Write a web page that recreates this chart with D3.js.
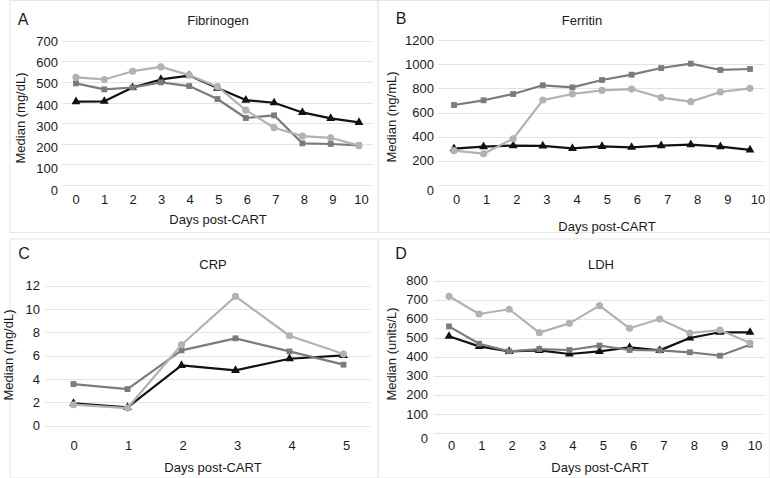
<!DOCTYPE html>
<html><head><meta charset="utf-8">
<script src="https://cdn.jsdelivr.net/npm/d3@7"></script>
<style>
body{margin:0;background:#fff}
svg{display:block}
text{font-family:"Liberation Sans",Arial,Helvetica,sans-serif;fill:#1a1a1a}
</style>
</head><body>
<svg id="c" width="770" height="478"></svg>
<script>
// ---------- data ----------
const days10 = ["0","1","2","3","4","5","6","7","8","9","10"];
const days5 = ["0","1","2","3","4","5"];

const fibTicks = [0,100,200,300,400,500,600,700];
const fibBlack = [404,406,473,512,531,470,412,399,352,323,304];
const fibDark  = [493,464,473,498,480,417,325,338,202,199,192];
const fibLight = [522,512,552,573,533,477,363,278,237,229,191];

const ferTicks = [0,200,400,600,800,1000,1200];
const ferBlack = [301,317,326,323,303,320,312,326,334,317,290];
const ferDark  = [662,701,753,825,808,869,913,968,1004,952,960];
const ferLight = [284,259,383,703,753,783,794,723,690,770,800];

const crpTicks = [0,2,4,6,8,10,12];
const crpBlack = [1.91,1.57,5.17,4.74,5.74,6.03];
const crpDark  = [3.57,3.14,6.46,7.49,6.37,5.23];
const crpLight = [1.80,1.51,6.94,11.09,7.71,6.14];

const ldhTicks = [0,100,200,300,400,500,600,700,800];
const ldhBlack = [508,455,429,434,415,429,450,434,499,529,529];
const ldhDark  = [560,469,429,441,436,459,436,434,424,406,464];
const ldhLight = [718,625,650,527,576,669,550,599,525,541,473];

const xTitle = "Days post-CART";

// ---------- layout ----------
const panels = [
  {letter:"A", title:"Fibrinogen", yTitle:"Median (mg/dL)", cats:days10, ticks:fibTicks,
   series:[fibBlack,fibDark,fibLight],
   grid:[62,373], pts:[76,359], lbl:[76,361.5], y:[185,40.7], yl:[190,41.3], zeroShift:0,
   yLblX:58, xLblY:199, titlePos:[218,20], letterPos:[23,19], xTitlePos:[218,219], yTitlePos:[20,118],
   border:[10,0.5,378,232.5]},
  {letter:"B", title:"Ferritin", yTitle:"Median (ng/mL)", cats:days10, ticks:ferTicks,
   series:[ferBlack,ferDark,ferLight],
   grid:[438,765], pts:[454,750], lbl:[456.5,758], y:[185,40], yl:[185,40], zeroShift:5,
   yLblX:434, xLblY:199, titlePos:[582,20], letterPos:[401,18], xTitlePos:[607,226], yTitlePos:[391,117],
   border:[378,0.5,770,232.5]},
  {letter:"C", title:"CRP", yTitle:"Median (mg/dL)", cats:days5, ticks:crpTicks,
   series:[crpBlack,crpDark,crpLight],
   grid:[45,370], pts:[73.5,343.5], lbl:[74,346.5], y:[425.7,285.7], yl:[425.7,285.7], zeroShift:0,
   yLblX:40, xLblY:445, titlePos:[213,264], letterPos:[24,253], xTitlePos:[213,467], yTitlePos:[8,355],
   border:[10,239,378,478]},
  {letter:"D", title:"LDH", yTitle:"Median (units/L)", cats:days10, ticks:ldhTicks,
   series:[ldhBlack,ldhDark,ldhLight],
   grid:[434,765], pts:[449,750], lbl:[451.5,755], y:[433,280.7], yl:[433,280.7], zeroShift:5,
   yLblX:428, xLblY:445, titlePos:[601,264], letterPos:[401,253], xTitlePos:[600,467], yTitlePos:[391,354],
   border:[378,239,770,478]}
];

const styles = [
  {color:"#111111", marker:d3.symbolTriangle, size:34},
  {color:"#7b7b7b", marker:d3.symbolSquare, size:34},
  {color:"#b2b2b2", marker:d3.symbolCircle, size:40}
];

const svg = d3.select("#c");
svg.append("rect").attr("width",770).attr("height",478).attr("fill","#fff");

panels.forEach(p => {
  const g = svg.append("g");
  const [bx0,by0,bx1,by1] = p.border;
  g.append("rect").attr("x",bx0).attr("y",by0).attr("width",bx1-bx0).attr("height",by1-by0)
    .attr("fill","none").attr("stroke","#e6e6e6").attr("stroke-width",1);

  const maxV = p.ticks[p.ticks.length-1];
  const y = d3.scaleLinear().domain([0,maxV]).range(p.y);
  const yl = d3.scaleLinear().domain([0,maxV]).range(p.yl);
  const x = d3.scalePoint().domain(p.cats).range(p.pts);
  const xl = d3.scalePoint().domain(p.cats).range(p.lbl);

  // gridlines
  g.selectAll("line.grid").data(p.ticks).enter().append("line")
    .attr("x1",p.grid[0]).attr("x2",p.grid[1])
    .attr("y1",d=>Math.round(y(d))+0.5).attr("y2",d=>Math.round(y(d))+0.5)
    .attr("stroke","#e4e4e4").attr("stroke-width",1);

  // y tick labels
  g.selectAll("text.yt").data(p.ticks).enter().append("text")
    .attr("x",p.yLblX).attr("y",d=>yl(d)+(d===0?p.zeroShift:0)).attr("dy","0.35em")
    .attr("text-anchor","end").attr("font-size",13).text(d=>d);

  // x tick labels
  g.selectAll("text.xt").data(p.cats).enter().append("text")
    .attr("x",d=>xl(d)).attr("y",p.xLblY).attr("dy","0.35em")
    .attr("text-anchor","middle").attr("font-size",13).text(d=>d);

  // titles
  g.append("text").attr("x",p.titlePos[0]).attr("y",p.titlePos[1]).attr("dy","0.35em")
    .attr("text-anchor","middle").attr("font-size",13).text(p.title);
  g.append("text").attr("x",p.letterPos[0]).attr("y",p.letterPos[1]).attr("dy","0.35em")
    .attr("text-anchor","middle").attr("font-size",16).text(p.letter);
  g.append("text").attr("x",p.xTitlePos[0]).attr("y",p.xTitlePos[1]).attr("dy","0.35em")
    .attr("text-anchor","middle").attr("font-size",13).text(xTitle);
  g.append("text").attr("transform",`translate(${p.yTitlePos[0]},${p.yTitlePos[1]}) rotate(-90)`)
    .attr("dy","0.35em").attr("text-anchor","middle").attr("font-size",13).text(p.yTitle);

  // series
  const line = d3.line().x((d,i)=>x(p.cats[i])).y(d=>y(d));
  p.series.forEach((vals,si) => {
    const st = styles[si];
    g.append("path").datum(vals).attr("d",line).attr("fill","none")
      .attr("stroke",st.color).attr("stroke-width",2.2).attr("stroke-linejoin","round");
    g.selectAll(null).data(vals).enter().append("path")
      .attr("transform",(d,i)=>`translate(${x(p.cats[i])},${y(d)})`)
      .attr("d",d3.symbol().type(st.marker).size(st.size)())
      .attr("fill",st.color);
  });
});
</script>
</body></html>
